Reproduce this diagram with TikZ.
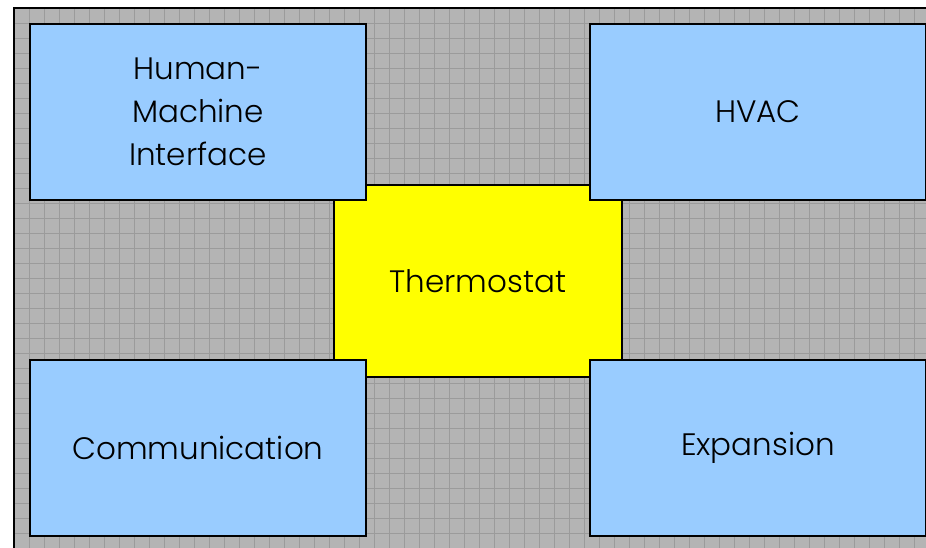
\documentclass[tikz,border=0pt]{standalone}
\usepackage{fontspec}
\setmainfont{Poppins}[UprightFont=*-Light]
\usepackage{tikz}
\usetikzlibrary{positioning}
\definecolor{paper}{RGB}{180, 180, 180}
\definecolor{gridline}{RGB}{155, 155, 155}
\definecolor{unitblue}{RGB}{153, 204, 255}
\definecolor{coreyellow}{RGB}{255, 255, 0}

\tikzset{
    unit/.style={draw=black, line width=2.2pt, fill=unitblue, minimum width=336pt, minimum height=176pt, align=center, inner sep=0pt},
    core/.style={draw=black, line width=2.2pt, fill=coreyellow, minimum width=288pt, minimum height=192pt, inner sep=0pt}
}

\begin{document}
\begin{tikzpicture}[x=1pt, y=-1pt, font=\fontsize{31}{43}\selectfont]
        \useasboundingbox (0, 0) rectangle (926, 548);
        % sheet with grid
        \fill[paper] (14, 8) rectangle (926, 548);
        \begin{scope}[shift={(14, 8)}]
            \draw[gridline, line width=0.8pt, step=15pt] (0, 0) grid (912, 540);
        \end{scope}
        \draw[line width=2.2pt] (14, 548) -- (14, 8) -- (926, 8);
        % blocks
        \node[core] (thermostat) at (478, 281) {Thermostat};
        \node[unit] (hmi) at (198, 112) {Human-\\Machine\\Interface};
        \node[unit] (hvac) at (758, 112) {HVAC};
        \node[unit] (comm) at (198, 448) {Communication};
        \node[unit] (expansion) at (758, 448) {Expansion};
    \end{tikzpicture}
\end{document}
